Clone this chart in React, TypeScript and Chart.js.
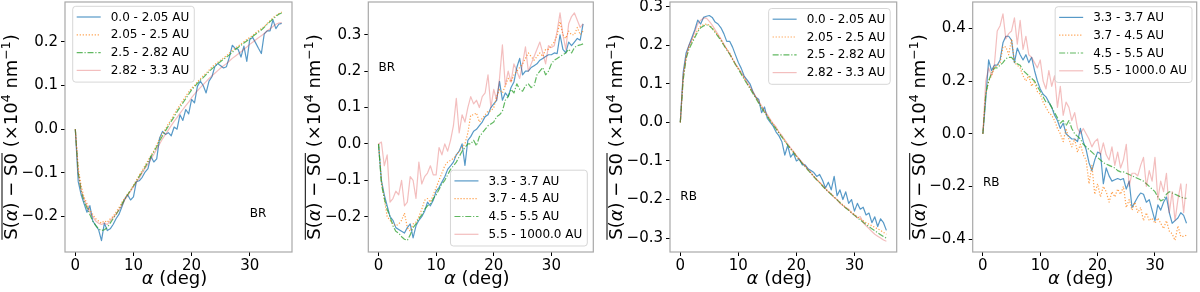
import { useEffect, useRef } from "react";
import { Chart, registerables } from "chart.js";

Chart.register(...registerables);
Chart.defaults.font.family = '"DejaVu Sans", sans-serif';

// ---------- data ----------
const ALPHA = [
  0, 0.5, 1, 1.5, 2, 2.5, 3, 3.5, 4, 4.5, 5, 5.5, 6, 6.5, 7, 7.5, 8, 8.5, 9, 9.5,
  10, 10.5, 11, 11.5, 12, 12.5, 13, 13.5, 14, 14.5, 15, 15.5, 16, 16.5, 17, 17.5, 18, 18.5, 19, 19.5,
  20, 20.5, 21, 21.5, 22, 22.5, 23, 23.5, 24, 24.5, 25, 25.5, 26, 26.5, 27, 27.5, 28, 28.5, 29, 29.5,
  30, 30.5, 31, 31.5, 32, 32.5, 33, 33.5, 34, 34.5, 35, 35.5,
];

const NEAR_LABELS = ["0.0 - 2.05 AU", "2.05 - 2.5 AU", "2.5 - 2.82 AU", "2.82 - 3.3 AU"];
const FAR_LABELS = ["3.3 - 3.7 AU", "3.7 - 4.5 AU", "4.5 - 5.5 AU", "5.5 - 1000.0 AU"];

const X_TICKS = [0, 10, 20, 30];
const Y_TICKS_1 = [-0.2, -0.1, 0.0, 0.1, 0.2];
const Y_TICKS_2 = [-0.2, -0.1, 0.0, 0.1, 0.2, 0.3];
const Y_TICKS_3 = [-0.3, -0.2, -0.1, 0.0, 0.1, 0.2, 0.3];
const Y_TICKS_4 = [-0.4, -0.2, 0.0, 0.2, 0.4];

// Panel 1: BR, near
const BR_NEAR_1 = [
  0, -0.12, -0.15, -0.17, -0.19, -0.175, -0.21, -0.22, -0.23, -0.255,
  -0.215, -0.232, -0.228, -0.218, -0.205, -0.195, -0.178, -0.16, -0.15, -0.162,
  -0.155, -0.12, -0.118, -0.11, -0.098, -0.09, -0.062, -0.075, -0.068, -0.02,
  -0.005, -0.012, -0.008, -0.015, 0.005, 0.0, 0.033, 0.02, 0.045, 0.035,
  0.068, 0.06, 0.098, 0.11, 0.1, 0.083, 0.11, 0.12, 0.143, 0.15,
  0.145, 0.14, 0.143, 0.165, 0.192, 0.185, 0.183, 0.165, 0.19, 0.155,
  0.205, 0.21, 0.198, 0.185, 0.173, 0.218, 0.225, 0.225, 0.25, 0.23,
  0.24, 0.242,
];
const BR_NEAR_2 = [
  0, -0.09, -0.13, -0.155, -0.17, -0.185, -0.195, -0.205, -0.21, -0.215,
  -0.21, -0.213, -0.205, -0.2, -0.19, -0.18, -0.168, -0.158, -0.148, -0.14,
  -0.128, -0.117, -0.105, -0.095, -0.083, -0.072, -0.06, -0.05, -0.036, -0.022,
  -0.01, 0.0, 0.012, 0.022, 0.034, 0.045, 0.055, 0.065, 0.075, 0.085,
  0.094, 0.1, 0.108, 0.115, 0.122, 0.128, 0.135, 0.142, 0.148, 0.153,
  0.158, 0.163, 0.168, 0.174, 0.18, 0.185, 0.19, 0.195, 0.2, 0.205,
  0.21, 0.214, 0.22, 0.225, 0.23, 0.235, 0.242, 0.248, 0.255, 0.26,
  0.264, 0.268,
];
const BR_NEAR_3 = [
  0, -0.1, -0.14, -0.165, -0.18, -0.195, -0.21, -0.22, -0.228, -0.232,
  -0.23, -0.225, -0.215, -0.205, -0.195, -0.185, -0.172, -0.16, -0.15, -0.14,
  -0.13, -0.12, -0.108, -0.098, -0.087, -0.075, -0.063, -0.052, -0.04, -0.027,
  -0.015, -0.004, 0.007, 0.018, 0.028, 0.04, 0.05, 0.06, 0.07, 0.08,
  0.09, 0.097, 0.105, 0.112, 0.118, 0.125, 0.132, 0.138, 0.144, 0.15,
  0.155, 0.16, 0.165, 0.17, 0.176, 0.182, 0.187, 0.192, 0.197, 0.202,
  0.207, 0.212, 0.217, 0.222, 0.227, 0.233, 0.24, 0.246, 0.252, 0.258,
  0.263, 0.266,
];
const BR_NEAR_4 = [
  0, -0.1, -0.14, -0.16, -0.175, -0.19, -0.2, -0.21, -0.215, -0.218,
  -0.215, -0.218, -0.21, -0.202, -0.195, -0.185, -0.175, -0.162, -0.152, -0.142,
  -0.132, -0.122, -0.112, -0.1, -0.09, -0.08, -0.068, -0.058, -0.046, -0.034,
  -0.022, -0.012, -0.002, 0.008, 0.018, 0.027, 0.036, 0.045, 0.054, 0.062,
  0.072, 0.08, 0.088, 0.095, 0.102, 0.109, 0.116, 0.122, 0.128, 0.134,
  0.14, 0.145, 0.15, 0.156, 0.162, 0.167, 0.172, 0.177, 0.183, 0.188,
  0.194, 0.199, 0.204, 0.209, 0.214, 0.219, 0.225, 0.23, 0.235, 0.24,
  0.243, 0.244,
];

// Panel 2: BR, far
const BR_FAR_1 = [
  0, -0.1, -0.14, -0.17, -0.2, -0.21, -0.23, -0.235, -0.24, -0.245,
  -0.23, -0.22, -0.258, -0.225, -0.21, -0.2, -0.185, -0.16, -0.17, -0.155,
  -0.13, -0.12, -0.105, -0.09, -0.07, -0.06, -0.05, -0.03, -0.02, 0.0,
  -0.059, 0.01, 0.02, 0.035, 0.04, 0.05, 0.06, 0.075, 0.08, 0.1,
  0.11, 0.12, 0.172, 0.12, 0.14, 0.13, 0.155, 0.17, 0.21, 0.235,
  0.19, 0.2, 0.2, 0.21, 0.215, 0.22, 0.23, 0.235, 0.24, 0.245,
  0.245, 0.25, 0.248, 0.3, 0.26, 0.25, 0.28, 0.27, 0.28, 0.29,
  0.285, 0.33,
];
const BR_FAR_2 = [
  0, -0.1, -0.15, -0.2, -0.21, -0.22, -0.225, -0.22, -0.21, -0.19,
  -0.23, -0.24, -0.22, -0.215, -0.2, -0.18, -0.155, -0.15, -0.16, -0.14,
  -0.12, -0.1, -0.08, -0.06, -0.05, -0.045, -0.04, -0.03, -0.02, -0.01,
  0.0, 0.03, 0.079, 0.08, 0.085, 0.06, 0.07, 0.08, 0.09, 0.09,
  0.1, 0.13, 0.15, 0.14, 0.16, 0.18, 0.17, 0.19, 0.2, 0.21,
  0.22, 0.235, 0.25, 0.24, 0.23, 0.24, 0.25, 0.24, 0.26, 0.26,
  0.27, 0.28, 0.3, 0.336, 0.3, 0.29, 0.31, 0.3, 0.3, 0.32,
  0.3, 0.31,
];
const BR_FAR_3 = [
  0, -0.11, -0.15, -0.18, -0.2, -0.225, -0.24, -0.245, -0.255, -0.262,
  -0.265, -0.25, -0.23, -0.22, -0.205, -0.195, -0.18, -0.17, -0.165, -0.15,
  -0.14, -0.125, -0.11, -0.1, -0.085, -0.07, -0.06, -0.05, -0.035, -0.02,
  -0.01, 0.0, 0.0, 0.01, -0.005, 0.02, 0.03, 0.04, 0.05, 0.055,
  0.06, 0.075, 0.08, 0.09, 0.12, 0.13, 0.15, 0.14, 0.165, 0.15,
  0.145, 0.16, 0.165, 0.155, 0.16, 0.19, 0.2, 0.21, 0.19, 0.2,
  0.22, 0.23, 0.235, 0.24, 0.245, 0.25, 0.26, 0.25, 0.265, 0.27,
  0.272, 0.275,
];
const BR_FAR_4 = [
  0, 0.005, -0.06, -0.03, -0.16, -0.15, -0.13, -0.14, -0.1, -0.17,
  -0.16, -0.09, -0.1, -0.15, -0.05, -0.11, -0.09, -0.08, -0.06, -0.085,
  -0.085, -0.01, -0.03, 0.0, -0.02, 0.01, 0.05, 0.125, 0.03, 0.08,
  0.06, 0.1, 0.13, 0.11, 0.12, 0.1, 0.13, 0.14, 0.19, 0.1,
  0.15, 0.12, 0.18, 0.272, 0.16, 0.2, 0.17, 0.22, 0.2, 0.18,
  0.22, 0.267, 0.2, 0.22, 0.24, 0.26, 0.28, 0.25, 0.22, 0.27,
  0.265, 0.27, 0.31, 0.36, 0.3, 0.26, 0.33, 0.35, 0.36, 0.34,
  0.32, 0.33,
];

// Panel 3: RB, near
const RB_NEAR_1 = [
  0, 0.13, 0.18, 0.2, 0.22, 0.24, 0.265, 0.255, 0.272, 0.275,
  0.277, 0.272, 0.26, 0.255, 0.245, 0.23, 0.21, 0.21, 0.195, 0.175,
  0.155, 0.14, 0.12, 0.11, 0.1, 0.08, 0.065, 0.06, 0.025, 0.04,
  0.01, 0.0, -0.01, -0.025, -0.035, -0.05, -0.085, -0.06, -0.09, -0.08,
  -0.1, -0.095, -0.11, -0.11, -0.12, -0.125, -0.13, -0.14, -0.135, -0.15,
  -0.17, -0.155, -0.175, -0.14, -0.19, -0.175, -0.2, -0.18, -0.21, -0.2,
  -0.23, -0.21, -0.225, -0.22, -0.24, -0.235, -0.26, -0.245, -0.27, -0.25,
  -0.26, -0.28,
];
const RB_NEAR_2 = [
  0, 0.12, 0.17, 0.195, 0.21, 0.225, 0.24, 0.25, 0.253, 0.255,
  0.252, 0.245, 0.235, 0.225, 0.215, 0.2, 0.19, 0.18, 0.165, 0.15,
  0.14, 0.127, 0.115, 0.1, 0.09, 0.077, 0.065, 0.052, 0.04, 0.028,
  0.017, 0.005, -0.005, -0.015, -0.027, -0.037, -0.048, -0.058, -0.068, -0.077,
  -0.087, -0.096, -0.105, -0.114, -0.123, -0.131, -0.14, -0.148, -0.156, -0.164,
  -0.172, -0.179, -0.186, -0.193, -0.2, -0.207, -0.214, -0.22, -0.227, -0.233,
  -0.239, -0.245, -0.25, -0.255, -0.26, -0.264, -0.268, -0.272, -0.276, -0.28,
  -0.285, -0.29,
];
const RB_NEAR_3 = [
  0, 0.11, 0.165, 0.19, 0.205, 0.22, 0.235, 0.245, 0.25, 0.253,
  0.25, 0.243, 0.233, 0.223, 0.212, 0.2, 0.188, 0.177, 0.163, 0.15,
  0.138, 0.125, 0.112, 0.1, 0.088, 0.075, 0.063, 0.05, 0.038, 0.026,
  0.015, 0.004, -0.007, -0.017, -0.028, -0.038, -0.049, -0.059, -0.069, -0.078,
  -0.088, -0.097, -0.106, -0.115, -0.124, -0.132, -0.141, -0.149, -0.157, -0.165,
  -0.173, -0.18, -0.187, -0.194, -0.201, -0.208, -0.215, -0.222, -0.228, -0.235,
  -0.241, -0.247, -0.253, -0.259, -0.265, -0.27, -0.276, -0.281, -0.286, -0.291,
  -0.296, -0.3,
];
const RB_NEAR_4 = [
  0, 0.12, 0.17, 0.2, 0.215, 0.235, 0.255, 0.265, 0.27, 0.27,
  0.262, 0.252, 0.24, 0.228, 0.216, 0.203, 0.19, 0.178, 0.165, 0.152,
  0.14, 0.13, 0.118, 0.105, 0.092, 0.08, 0.067, 0.055, 0.043, 0.03,
  0.02, 0.008, -0.003, -0.012, -0.025, -0.034, -0.045, -0.056, -0.066, -0.075,
  -0.086, -0.095, -0.104, -0.113, -0.122, -0.13, -0.14, -0.148, -0.155, -0.163,
  -0.172, -0.18, -0.185, -0.195, -0.2, -0.21, -0.215, -0.222, -0.225, -0.235,
  -0.24, -0.248, -0.244, -0.26, -0.268, -0.275, -0.283, -0.29, -0.295, -0.3,
  -0.305, -0.308,
];

// Panel 4: RB, far
const RB_FAR_1 = [
  0, 0.13, 0.28, 0.24, 0.26, 0.26, 0.28, 0.345, 0.37, 0.37,
  0.355, 0.27, 0.325, 0.3, 0.28, 0.3, 0.27, 0.29, 0.24, 0.2,
  0.17, 0.15, 0.14, 0.12, 0.1, 0.07, 0.05, 0.02, 0.04, 0.0,
  -0.01, -0.02, -0.02, -0.03, 0.02, -0.03, -0.06, -0.11, -0.14, -0.1,
  -0.07, -0.075, -0.19, -0.13, -0.16, -0.18, -0.175, -0.17, -0.175, -0.17,
  -0.21, -0.18, -0.28, -0.26, -0.24, -0.225, -0.23, -0.26, -0.25, -0.29,
  -0.33, -0.27, -0.29, -0.26, -0.24, -0.3, -0.34, -0.33, -0.32, -0.3,
  -0.31, -0.34,
];
const RB_FAR_2 = [
  0, 0.15, 0.2, 0.22, 0.25, 0.26, 0.27, 0.33, 0.33, 0.3,
  0.36, 0.27, 0.26, 0.25, 0.22, 0.2, 0.22, 0.18, 0.2, 0.16,
  0.15, 0.12, 0.1, 0.08, 0.07, 0.05, 0.02, 0.0, -0.03, 0.02,
  -0.02, -0.05, -0.02, -0.07, -0.04, -0.08, -0.1, -0.19, -0.12, -0.23,
  -0.19, -0.24, -0.2, -0.22, -0.26, -0.22, -0.24, -0.21, -0.23, -0.2,
  -0.28, -0.25, -0.29, -0.26, -0.3, -0.28, -0.33, -0.3, -0.33, -0.32,
  -0.34, -0.32, -0.34, -0.36, -0.33, -0.37, -0.38, -0.405, -0.35, -0.39,
  -0.39, -0.385,
];
const RB_FAR_3 = [
  0, 0.15, 0.2, 0.23, 0.25, 0.25, 0.26, 0.27, 0.285, 0.29,
  0.29, 0.275, 0.265, 0.26, 0.24, 0.23, 0.22, 0.21, 0.2, 0.18,
  0.16, 0.14, 0.12, 0.12, 0.1, 0.08, 0.06, 0.04, 0.05, 0.03,
  0.05, 0.02, 0.0, -0.01, -0.02, -0.04, -0.05, -0.06, -0.07, -0.08,
  -0.09, -0.1, -0.11, -0.115, -0.12, -0.125, -0.13, -0.14, -0.145, -0.145,
  -0.15, -0.155, -0.16, -0.165, -0.17, -0.175, -0.18, -0.19, -0.2, -0.21,
  -0.22, -0.24, -0.255, -0.25, -0.23, -0.22, -0.225, -0.23, -0.235, -0.24,
  -0.245, -0.245,
];
const RB_FAR_4 = [
  0, 0.2, 0.25, 0.22, 0.26, 0.39, 0.41, 0.455, 0.36, 0.38,
  0.39, 0.44, 0.34, 0.43, 0.32, 0.37, 0.3, 0.29, 0.27, 0.25,
  0.28, 0.2, 0.17, 0.24, 0.18, 0.22, 0.1, 0.18, 0.07, 0.12,
  0.1, 0.05, 0.08, 0.02, 0.0, 0.02, 0.0, -0.02, -0.05, -0.03,
  -0.02, -0.08, -0.035, -0.08, -0.1, -0.05, -0.12, -0.07, -0.13, -0.1,
  -0.04, -0.2, -0.15, -0.15, -0.16, -0.12, -0.09, -0.2, -0.14, -0.18,
  -0.09, -0.25, -0.18, -0.22, -0.15, -0.3, -0.22, -0.33, -0.25, -0.19,
  -0.3, -0.19,
];

// ---------- styles / layout ----------
const STYLES = [
  { color: "rgba(31,119,180,0.75)", dash: [] as number[] },
  { color: "rgba(255,127,14,0.75)", dash: [1.2, 1.8] },
  { color: "rgba(44,160,44,0.75)", dash: [6, 1.8, 1.2, 1.8] },
  { color: "rgba(214,39,40,0.3)", dash: [] as number[] },
];

type LegendPos = { h: "left" | "right"; v: "top" | "bottom"; dx: number; dy: number };
type Panel = {
  area: { l: number; r: number; t: number; b: number };
  yMin: number;
  yMax: number;
  yTicks: number[];
  series: number[][];
  labels: string[];
  legend: LegendPos;
  tag: { text: string; x: number; y: number };
};

const PANELS: Panel[] = [
  {
    area: { l: 65, r: 292, t: 2, b: 252 },
    yMin: -0.281, yMax: 0.291, yTicks: Y_TICKS_1,
    series: [BR_NEAR_1, BR_NEAR_2, BR_NEAR_3, BR_NEAR_4], labels: NEAR_LABELS,
    legend: { h: "left", v: "top", dx: 7.7, dy: 4.3 },
    tag: { text: "BR", x: 30, y: -0.2 },
  },
  {
    area: { l: 68.3, r: 293.3, t: 2, b: 252 },
    yMin: -0.297, yMax: 0.39, yTicks: Y_TICKS_2,
    series: [BR_FAR_1, BR_FAR_2, BR_FAR_3, BR_FAR_4], labels: FAR_LABELS,
    legend: { h: "right", v: "bottom", dx: 6, dy: 6 },
    tag: { text: "BR", x: 0, y: 0.2 },
  },
  {
    area: { l: 70, r: 296.7, t: 2, b: 252 },
    yMin: -0.336, yMax: 0.312, yTicks: Y_TICKS_3,
    series: [RB_NEAR_1, RB_NEAR_2, RB_NEAR_3, RB_NEAR_4], labels: NEAR_LABELS,
    legend: { h: "right", v: "top", dx: 6.5, dy: 6.5 },
    tag: { text: "RB", x: 0, y: -0.2 },
  },
  {
    area: { l: 72.7, r: 296.7, t: 2, b: 252 },
    yMin: -0.449, yMax: 0.5, yTicks: Y_TICKS_4,
    series: [RB_FAR_1, RB_FAR_2, RB_FAR_3, RB_FAR_4], labels: FAR_LABELS,
    legend: { h: "right", v: "top", dx: 4.7, dy: 4.7 },
    tag: { text: "RB", x: 0, y: -0.2 },
  },
];

const W = 300;
const H = 292;
const Y_AXIS_W = 60;
const X_AXIS_H = 40;

const fmtY = (v: number) => {
  const s = Math.abs(v) < 1e-9 ? "0.0" : v.toFixed(1);
  return s.replace("-", "\u2212");
};

function drawYTitle(ctx: CanvasRenderingContext2D, x: number, cy: number) {
  const norm = '18px "DejaVu Sans"';
  const ital = 'italic 18px "DejaVu Sans"';
  const sup = '12.5px "DejaVu Sans"';
  const parts = [
    { t: "S(", f: norm, dy: 0, ol: true },
    { t: "\u03b1", f: ital, dy: 0, ol: true },
    { t: ") \u2212 S0", f: norm, dy: 0, ol: true },
    { t: " (\u00d710", f: norm, dy: 0, ol: false },
    { t: "4", f: sup, dy: -7, ol: false },
    { t: " nm", f: norm, dy: 0, ol: false },
    { t: "\u22121", f: sup, dy: -7, ol: false },
    { t: ")", f: norm, dy: 0, ol: false },
  ];
  ctx.save();
  ctx.translate(x, cy);
  ctx.rotate(-Math.PI / 2);
  ctx.textAlign = "left";
  ctx.textBaseline = "alphabetic";
  ctx.fillStyle = "#000";
  const widths = parts.map((p) => {
    ctx.font = p.f;
    return ctx.measureText(p.t).width;
  });
  const total = widths.reduce((a, b) => a + b, 0);
  let cur = -total / 2;
  let olS = 0;
  let olE = 0;
  parts.forEach((p, i) => {
    ctx.font = p.f;
    ctx.fillText(p.t, cur, p.dy);
    if (p.ol) {
      if (i === 0) olS = cur;
      olE = cur + widths[i];
    }
    cur += widths[i];
  });
  ctx.strokeStyle = "#000";
  ctx.lineWidth = 1;
  ctx.beginPath();
  ctx.moveTo(olS, -15);
  ctx.lineTo(olE, -15);
  ctx.stroke();
  ctx.restore();
}

function drawXTitle(ctx: CanvasRenderingContext2D, cx: number, y: number) {
  ctx.save();
  ctx.textAlign = "left";
  ctx.textBaseline = "alphabetic";
  ctx.fillStyle = "#000";
  ctx.font = 'italic 18px "DejaVu Sans"';
  const a = ctx.measureText("\u03b1").width;
  ctx.font = '18px "DejaVu Sans"';
  const b = ctx.measureText(" (deg)").width;
  const x0 = cx - (a + b) / 2;
  ctx.font = 'italic 18px "DejaVu Sans"';
  ctx.fillText("\u03b1", x0, y);
  ctx.font = '18px "DejaVu Sans"';
  ctx.fillText(" (deg)", x0 + a, y);
  ctx.restore();
}

function drawLegend(
  ctx: CanvasRenderingContext2D,
  area: { left: number; right: number; top: number; bottom: number },
  pos: LegendPos,
  labels: string[]
) {
  ctx.save();
  ctx.font = '12px "DejaVu Sans"';
  const tw = Math.max(...labels.map((l) => ctx.measureText(l).width));
  const rowH = 17.8;
  const w = 4 + 24 + 10 + tw + 5;
  const h = 10.7 + rowH * (labels.length - 1) + 11.7;
  const x = pos.h === "left" ? area.left + pos.dx : area.right - pos.dx - w;
  const y = pos.v === "top" ? area.top + pos.dy : area.bottom - pos.dy - h;
  const r = 3;
  ctx.beginPath();
  ctx.moveTo(x + r, y);
  ctx.lineTo(x + w - r, y);
  ctx.arcTo(x + w, y, x + w, y + r, r);
  ctx.lineTo(x + w, y + h - r);
  ctx.arcTo(x + w, y + h, x + w - r, y + h, r);
  ctx.lineTo(x + r, y + h);
  ctx.arcTo(x, y + h, x, y + h - r, r);
  ctx.lineTo(x, y + r);
  ctx.arcTo(x, y, x + r, y, r);
  ctx.closePath();
  ctx.fillStyle = "rgba(255,255,255,0.8)";
  ctx.fill();
  ctx.strokeStyle = "rgba(204,204,204,0.8)";
  ctx.lineWidth = 1;
  ctx.stroke();
  labels.forEach((lab, i) => {
    const cy = y + 10.7 + i * rowH;
    const st = STYLES[i];
    ctx.beginPath();
    ctx.setLineDash(st.dash);
    ctx.strokeStyle = st.color;
    ctx.lineWidth = 1.2;
    ctx.moveTo(x + 4, cy);
    ctx.lineTo(x + 28, cy);
    ctx.stroke();
    ctx.setLineDash([]);
    ctx.fillStyle = "#000";
    ctx.textAlign = "left";
    ctx.textBaseline = "middle";
    ctx.fillText(lab, x + 38, cy + 0.5);
  });
  ctx.restore();
}

function makeChart(canvas: HTMLCanvasElement, p: Panel) {
  const decor = {
    id: "decor",
    afterDraw(chart: any) {
      const ctx: CanvasRenderingContext2D = chart.ctx;
      const a = chart.chartArea;
      // frame
      ctx.save();
      ctx.strokeStyle = "#a8a8a8";
      ctx.lineWidth = 1.2;
      ctx.strokeRect(a.left, a.top, a.right - a.left, a.bottom - a.top);
      ctx.restore();
      // tag
      const xs = chart.scales.x;
      const ys = chart.scales.y;
      ctx.save();
      ctx.font = '12px "DejaVu Sans"';
      ctx.fillStyle = "#000";
      ctx.textAlign = "left";
      ctx.textBaseline = "alphabetic";
      ctx.fillText(p.tag.text, xs.getPixelForValue(p.tag.x), ys.getPixelForValue(p.tag.y));
      ctx.restore();
      drawLegend(ctx, a, p.legend, p.labels);
      drawYTitle(ctx, a.left - 48, (a.top + a.bottom) / 2 + 10);
      drawXTitle(ctx, (a.left + a.right) / 2 - 4, 284);
    },
  };

  const datasets = p.series.map((vals, i) => ({
    label: p.labels[i],
    data: ALPHA.map((x, j) => ({ x, y: vals[j] })),
    borderColor: STYLES[i].color,
    borderDash: STYLES[i].dash,
    borderWidth: 1.2,
    borderCapStyle: "butt" as const,
    borderJoinStyle: "round" as const,
    pointRadius: 0,
    tension: 0,
    fill: false,
    order: 4 - i,
  }));

  return new Chart(canvas, {
    type: "line",
    data: { datasets },
    options: {
      animation: false,
      responsive: false,
      maintainAspectRatio: false,
      devicePixelRatio: 1,
      events: [],
      layout: {
        padding: {
          left: p.area.l - Y_AXIS_W,
          right: W - p.area.r,
          top: p.area.t,
          bottom: H - p.area.b - X_AXIS_H,
        },
      },
      plugins: { legend: { display: false }, tooltip: { enabled: false }, title: { display: false } },
      scales: {
        x: {
          type: "linear",
          min: -1.775,
          max: 37.275,
          afterBuildTicks: (s: any) => {
            s.ticks = X_TICKS.map((v) => ({ value: v }));
          },
          afterFit: (s: any) => {
            s.height = X_AXIS_H;
            s.paddingLeft = 0;
            s.paddingRight = 0;
          },
          grid: { display: true, drawOnChartArea: false, drawTicks: true, tickLength: 4, color: "#000", lineWidth: 1 },
          border: { display: false },
          ticks: {
            autoSkip: false,
            maxRotation: 0,
            padding: 1,
            color: "#000",
            font: { size: 15 },
            callback: (v: any) => String(Math.round(Number(v))),
          },
        },
        y: {
          type: "linear",
          min: p.yMin,
          max: p.yMax,
          afterBuildTicks: (s: any) => {
            s.ticks = p.yTicks.map((v) => ({ value: v }));
          },
          afterFit: (s: any) => {
            s.width = Y_AXIS_W;
            s.paddingTop = 0;
            s.paddingBottom = 0;
          },
          grid: { display: true, drawOnChartArea: false, drawTicks: true, tickLength: 4, color: "#000", lineWidth: 1 },
          border: { display: false },
          ticks: {
            autoSkip: false,
            padding: 3,
            color: "#000",
            font: { size: 15 },
            callback: (v: any) => fmtY(Number(v)),
          },
        },
      },
    },
    plugins: [decor],
  });
}

export default function App() {
  const refs = useRef<(HTMLCanvasElement | null)[]>([]);
  useEffect(() => {
    const charts = PANELS.map((p, i) => makeChart(refs.current[i] as HTMLCanvasElement, p));
    return () => charts.forEach((c) => c.destroy());
  }, []);
  return (
    <div style={{ position: "fixed", left: 0, top: 0, width: 1200, height: 292, background: "#fff" }}>
      {PANELS.map((_, i) => (
        <canvas
          key={i}
          ref={(el) => {
            refs.current[i] = el;
          }}
          width={W}
          height={H}
          style={{ position: "absolute", left: i * W, top: 0, width: W, height: H, display: "block" }}
        />
      ))}
    </div>
  );
}
